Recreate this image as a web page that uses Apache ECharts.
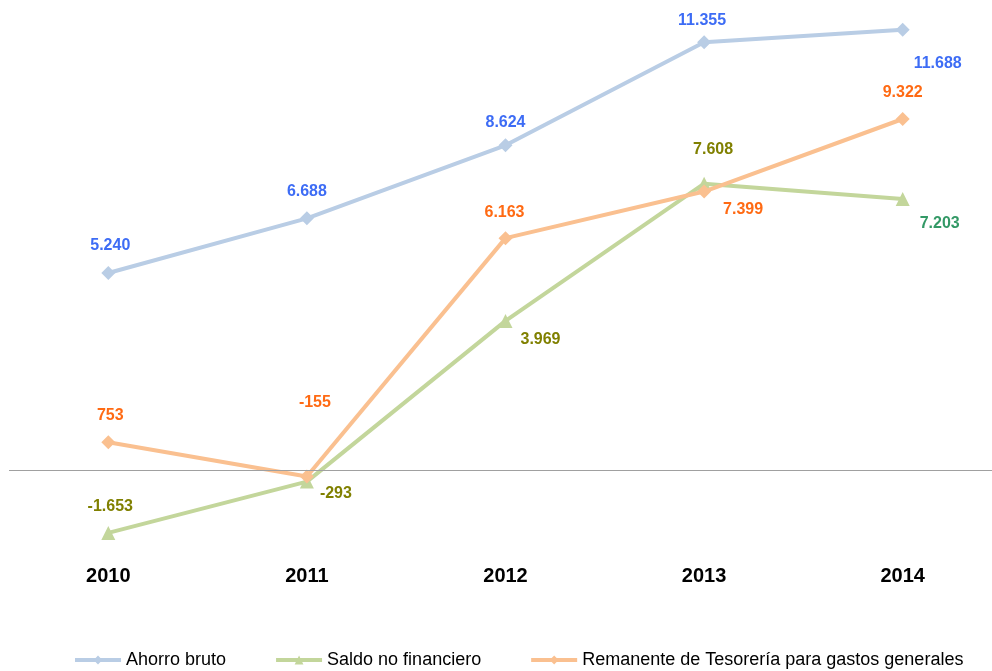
<!DOCTYPE html>
<html>
<head>
<meta charset="utf-8">
<script src="https://cdn.jsdelivr.net/npm/echarts@6/dist/echarts.min.js"></script>
<style>
  html, body { margin: 0; padding: 0; background: #ffffff; }
  #chart { width: 992px; height: 671px; }
</style>
</head>
<body>
<div id="chart"></div>
<script>
// Years on the category axis
const years = ['2010', '2011', '2012', '2013', '2014'];

// Series values (thousands of euros)
const ahorroBruto = [5240, 6688, 8624, 11355, 11688];
const saldoNoFinanciero = [-1653, -293, 3969, 7608, 7203];
const remanenteTesoreria = [753, -155, 6163, 7399, 9322];

// Per-point label placement relative to each marker [dx, dy]
const ahorroLabelOffsets = [[2, -27], [0, -27], [0, -23], [-2, -22], [35, 34]];
const saldoLabelOffsets = [[2, -26], [29, 12], [35, 19], [9, -34], [37, 25]];
const remanenteLabelOffsets = [[2, -27], [8, -74], [-1, -26], [39, 18], [0, -26]];

// Per-point label colours for the Saldo series (last value is green)
const saldoLabelColors = ['#808000', '#808000', '#808000', '#808000', '#339966'];

// Spanish number format: dot as thousands separator
function fmt(v) {
  const s = Math.abs(v).toString().replace(/\B(?=(\d{3})+(?!\d))/g, '.');
  return (v < 0 ? '-' : '') + s;
}

function buildData(values, offsets, colors, defaultColor) {
  return values.map((v, i) => ({
    value: v,
    label: {
      offset: offsets[i],
      color: colors ? colors[i] : defaultColor
    }
  }));
}

const labelBase = {
  show: true,
  position: 'inside',
  fontFamily: 'Liberation Sans, Arial, sans-serif',
  fontSize: 16,
  fontWeight: 'bold',
  formatter: p => fmt(p.value)
};

const chart = echarts.init(document.getElementById('chart'), null, { renderer: 'canvas' });

chart.setOption({
  animation: false,
  backgroundColor: '#ffffff',
  grid: {
    left: 9, width: 993, top: 18, height: 528,
    containLabel: false,
    outerBoundsMode: 'none'
  },
  legend: {
    left: 73,
    top: 651,
    padding: 0,
    itemWidth: 46,
    itemHeight: 11,
    itemGap: 48,
    lineStyle: { width: 4 },
    textStyle: {
      fontFamily: 'Liberation Sans, Arial, sans-serif',
      fontSize: 18,
      color: '#000000'
    },
    data: ['Ahorro bruto', 'Saldo no financiero', 'Remanente de Tesorería para gastos generales']
  },
  xAxis: {
    type: 'category',
    data: years,
    boundaryGap: true,
    axisLine: { show: false },
    axisTick: { show: false },
    splitLine: { show: false },
    axisLabel: {
      margin: 20,
      fontFamily: 'Liberation Sans, Arial, sans-serif',
      fontSize: 20,
      fontWeight: 'bold',
      color: '#000000'
    }
  },
  yAxis: {
    type: 'value',
    min: -2000,
    max: 12000,
    show: false,
    splitLine: { show: false }
  },
  series: [
    {
      name: 'Ahorro bruto',
      type: 'line',
      data: buildData(ahorroBruto, ahorroLabelOffsets, null, '#3d6cf5'),
      symbol: 'diamond',
      symbolSize: 14,
      lineStyle: { width: 4, color: '#b9cde5' },
      itemStyle: { color: '#b9cde5' },
      label: labelBase,
      z: 2,
      markLine: {
        silent: true,
        symbol: 'none',
        label: { show: false },
        lineStyle: { color: '#a0a0a0', width: 1, type: 'solid' },
        data: [{ yAxis: 0 }]
      }
    },
    {
      name: 'Saldo no financiero',
      type: 'line',
      data: buildData(saldoNoFinanciero, saldoLabelOffsets, saldoLabelColors),
      symbol: 'triangle',
      symbolSize: 14,
      lineStyle: { width: 4, color: '#c3d69b' },
      itemStyle: { color: '#c3d69b' },
      label: labelBase,
      z: 3
    },
    {
      name: 'Remanente de Tesorería para gastos generales',
      type: 'line',
      data: buildData(remanenteTesoreria, remanenteLabelOffsets, null, '#ff6a13'),
      symbol: 'diamond',
      symbolSize: 14,
      lineStyle: { width: 4, color: '#fac090' },
      itemStyle: { color: '#fac090' },
      label: labelBase,
      z: 4
    }
  ]
});
</script>
</body>
</html>
